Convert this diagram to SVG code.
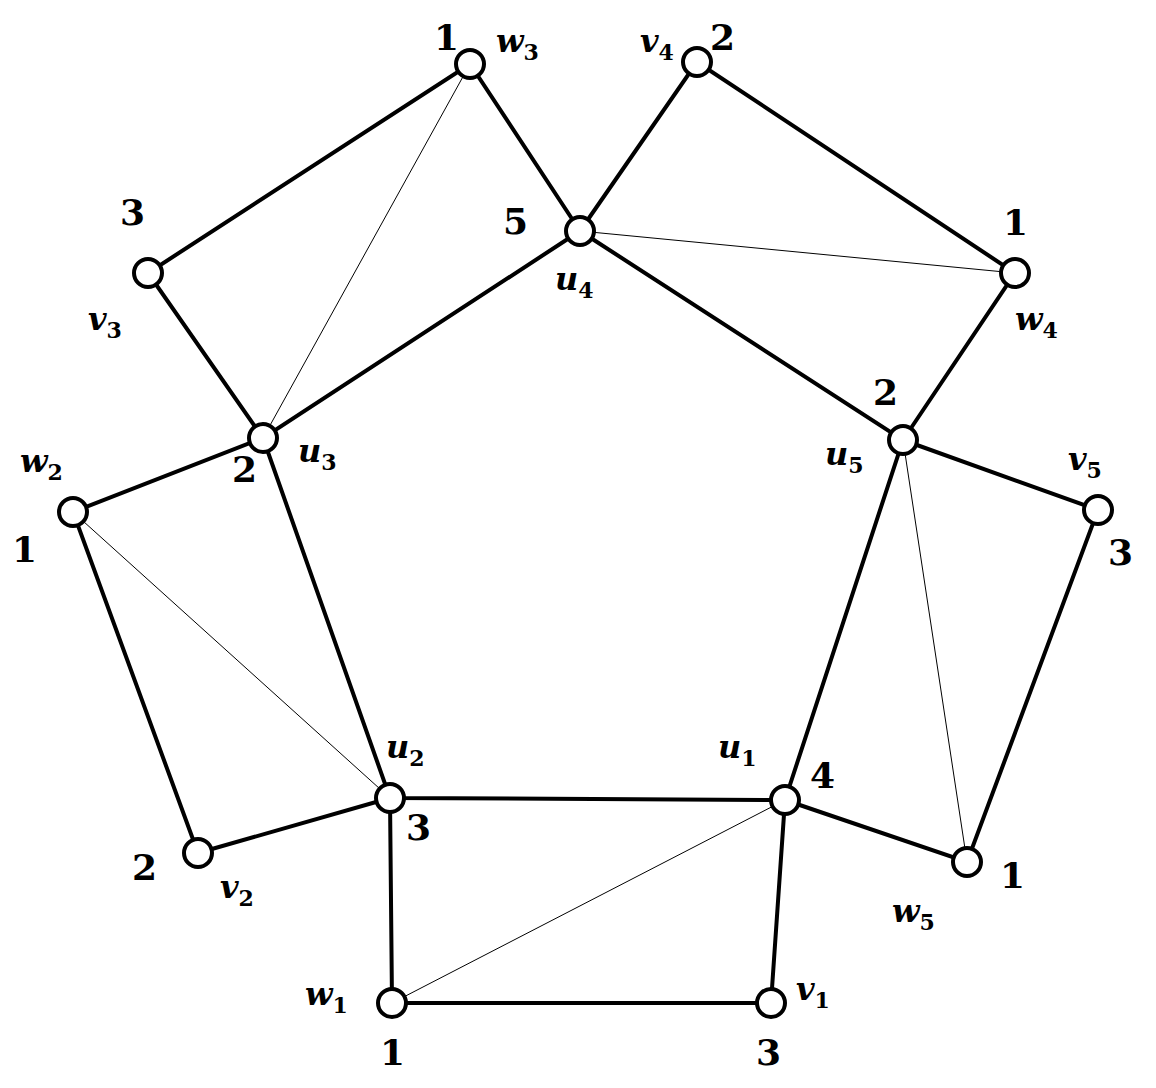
<svg xmlns="http://www.w3.org/2000/svg" width="1156" height="1088" viewBox="0 0 1156 1088">
<style>
.e{stroke:#000;stroke-width:4;fill:none}
.t{stroke:#000;stroke-width:1;fill:none}
.n{fill:#fff;stroke:#000;stroke-width:4}
.num{font-family:"DejaVu Serif",serif;font-weight:bold;font-size:36px}
.lab{font-family:"DejaVu Serif",serif;font-weight:bold;font-style:italic;font-size:32px}
.sub{font-size:22px;font-style:normal}
</style>
<rect width="1156" height="1088" fill="#fff"/>
<g id="connectors">
<path class="e" d="M785,800L390,798L263,438L580,231L903,440Z"/>
<path class="e" d="M390,798L392,1003L771,1003L785,800"/>
<path class="e" d="M390,798L198,853L73,512L263,438"/>
<path class="e" d="M263,438L148,273L470,64L580,231"/>
<path class="e" d="M580,231L697,62L1015,273L903,440"/>
<path class="e" d="M903,440L1098,510L967,862L785,800"/>
<path class="t" d="M392,1003L785,800M73,512L390,798M470,64L263,438M1015,273L580,231M903,440L967,862"/>
</g>
<g id="nodes">
<g id="u1"><circle class="n" cx="785" cy="800" r="14"/><text class="lab" x="718" y="758">u<tspan class="sub" dy="8">1</tspan></text><text class="num" x="810" y="788">4</text></g>
<g id="u2"><circle class="n" cx="390" cy="798" r="14"/><text class="lab" x="386" y="758">u<tspan class="sub" dy="8">2</tspan></text><text class="num" x="406" y="840">3</text></g>
<g id="u3"><circle class="n" cx="263" cy="438" r="14"/><text class="lab" x="298" y="462">u<tspan class="sub" dy="8">3</tspan></text><text class="num" x="232" y="482">2</text></g>
<g id="u4"><circle class="n" cx="580" cy="231" r="14"/><text class="lab" x="555" y="290">u<tspan class="sub" dy="8">4</tspan></text><text class="num" x="503" y="234">5</text></g>
<g id="u5"><circle class="n" cx="903" cy="440" r="14"/><text class="lab" x="825" y="465">u<tspan class="sub" dy="8">5</tspan></text><text class="num" x="873" y="405">2</text></g>
<g id="w1"><circle class="n" cx="392" cy="1003" r="14"/><text class="lab" x="305" y="1005">w<tspan class="sub" dy="8">1</tspan></text><text class="num" x="380" y="1065">1</text></g>
<g id="v1"><circle class="n" cx="771" cy="1003" r="14"/><text class="lab" x="796" y="1000">v<tspan class="sub" dy="8">1</tspan></text><text class="num" x="756" y="1065">3</text></g>
<g id="v2"><circle class="n" cx="198" cy="853" r="14"/><text class="lab" x="220" y="898">v<tspan class="sub" dy="8">2</tspan></text><text class="num" x="132" y="880">2</text></g>
<g id="w2"><circle class="n" cx="73" cy="512" r="14"/><text class="lab" x="20" y="472">w<tspan class="sub" dy="8">2</tspan></text><text class="num" x="12" y="562">1</text></g>
<g id="v3"><circle class="n" cx="148" cy="273" r="14"/><text class="lab" x="88" y="330">v<tspan class="sub" dy="8">3</tspan></text><text class="num" x="120" y="225">3</text></g>
<g id="w3"><circle class="n" cx="470" cy="64" r="14"/><text class="lab" x="496" y="52">w<tspan class="sub" dy="8">3</tspan></text><text class="num" x="434" y="50">1</text></g>
<g id="v4"><circle class="n" cx="697" cy="62" r="14"/><text class="lab" x="640" y="52">v<tspan class="sub" dy="8">4</tspan></text><text class="num" x="710" y="50">2</text></g>
<g id="w4"><circle class="n" cx="1015" cy="273" r="14"/><text class="lab" x="1015" y="330">w<tspan class="sub" dy="8">4</tspan></text><text class="num" x="1003" y="235">1</text></g>
<g id="v5"><circle class="n" cx="1098" cy="510" r="14"/><text class="lab" x="1068" y="470">v<tspan class="sub" dy="8">5</tspan></text><text class="num" x="1108" y="565">3</text></g>
<g id="w5"><circle class="n" cx="967" cy="862" r="14"/><text class="lab" x="892" y="922">w<tspan class="sub" dy="8">5</tspan></text><text class="num" x="1000" y="888">1</text></g>
</g>
</svg>
